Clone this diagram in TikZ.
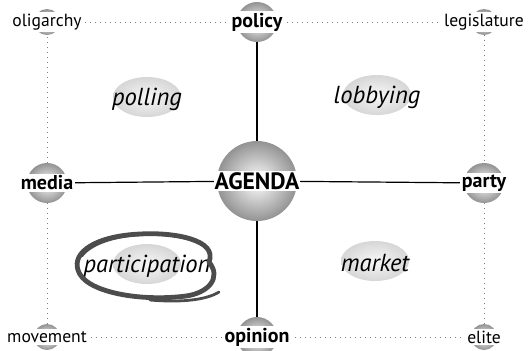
\documentclass[tikz,border=0pt]{standalone}
\usepackage{fontspec}
\setmainfont{PT Sans}
\usetikzlibrary{positioning,shapes.geometric}

\tikzset{
  ball/.style={circle,draw=none,inner sep=0pt,minimum size=#1,
    shading=radial,inner color=white,outer color=gray!85},
  blob/.style={ellipse,draw=none,inner sep=0pt,minimum width=34pt,
    minimum height=20pt,shading=radial,inner color=gray!6,outer color=gray!32},
  lab/.style={fill=white,inner sep=1pt,font=\fontsize{8.8}{10}\selectfont},
  blab/.style={fill=white,inner sep=1pt,font=\fontsize{10}{11}\selectfont\bfseries},
  ilab/.style={inner sep=0pt,font=\fontsize{12.3}{14}\selectfont\itshape},
  solidline/.style={black,line width=0.6pt},
  dotline/.style={gray,dotted,line width=0.5pt},
  swoosh/.style={draw=black!70,line width=2.4pt,line cap=round}
}

\begin{document}
\begin{tikzpicture}[x=0.5pt,y=-0.5pt]
  \useasboundingbox (0,0) rectangle (529,350);
  \def\L{47}
  \def\R{484}
  \def\T{22}
  \def\B{337}
  \def\cx{257}
  \def\cy{181}
  \def\my{183}

  % ellipses in the four fields
  \foreach \n/\a/\b in {poll/147/97,lobby/377/95,part/147/264,market/375/261} {
    \node[blob] (\n) at (\a,\b) {};
  }

  % spheres
  \node[ball=40pt] (agenda) at (\cx,\cy) {};
  \foreach \n/\a/\b in {policy/\cx/\T,opinion/\cx/\B,media/\L/\my,party/\R/\my} {
    \node[ball=20pt] (\n) at (\a,\b) {};
  }
  \foreach \n/\a/\b in {olig/\L/\T,legis/\R/\T,move/\L/\B,elite/\R/\B} {
    \node[ball=13pt] (\n) at (\a,\b) {};
  }

  % connectors
  \draw[dotline] (olig) -- (policy) -- (legis) -- (party) -- (elite)
    -- (opinion) -- (move) -- (media) -- (olig);
  \draw[solidline] (policy) -- (agenda) -- (opinion);
  \draw[solidline] (media) -- (agenda) -- (party);

  % labels
  \node[blab,inner sep=0.5pt,font=\fontsize{11.8}{14}\selectfont\bfseries] (agenda-t) at (agenda) {AGENDA};
  \foreach \n/\t in {policy/policy,opinion/opinion,media/media,party/party} {
    \node[blab] (\n-t) at (\n) {\t};
  }
  \foreach \n/\t in {olig/oligarchy,legis/legislature,move/movement,elite/elite} {
    \node[lab] (\n-t) at (\n) {\t};
  }
  \foreach \n/\t in {poll/polling,lobby/lobbying,part/participation,market/market} {
    \node[ilab] (\n-t) at ([yshift=-1pt]\n) {\t};
  }

  % the ring round participation
  \draw[swoosh] (209,262) .. controls (218,240) and (175,232) .. (140,234)
    .. controls (96,236) and (72,252) .. (78,270)
    .. controls (84,292) and (140,302) .. (186,296)
    .. controls (208,293) and (222,278) .. (209,262);
  \draw[swoosh,line width=1.2pt] (200,244) .. controls (170,228) and (100,232) .. (82,256);
  \draw[swoosh,line width=1.4pt] (150,300) .. controls (185,303) and (208,299) .. (219,292);
\end{tikzpicture}
\end{document}
